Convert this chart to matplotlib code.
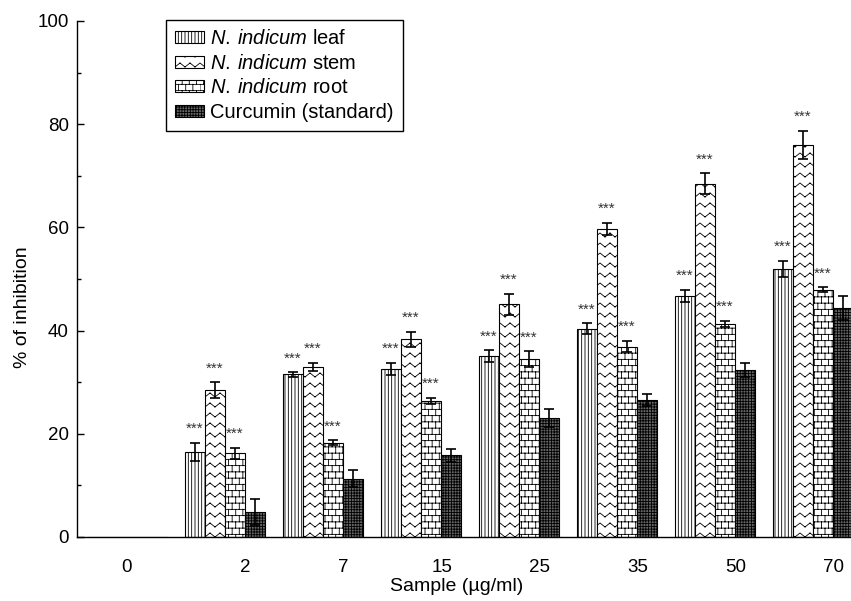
import numpy as np
import matplotlib
matplotlib.use('Agg')
import matplotlib.pyplot as plt
import matplotlib.hatch as mhatch
from matplotlib.path import Path

# data
doses = ['0', '2', '7', '15', '25', '35', '50', '70']
leaf = [0, 16.5, 31.5, 32.5, 35.1, 40.4, 46.7, 51.9]
leaf_err = [0, 1.8, 0.4, 1.2, 1.1, 1.0, 1.2, 1.6]
stem = [0, 28.5, 33.0, 38.3, 45.1, 59.7, 68.5, 76.0]
stem_err = [0, 1.5, 0.8, 1.5, 2.0, 1.2, 2.0, 2.7]
root = [0, 16.2, 18.3, 26.4, 34.5, 36.9, 41.3, 47.9]
root_err = [0, 1.1, 0.4, 0.6, 1.5, 1.1, 0.6, 0.5]
curcumin = [0, 4.9, 11.3, 15.8, 23.1, 26.6, 32.4, 44.4]
curcumin_err = [0, 2.5, 1.7, 1.2, 1.8, 1.2, 1.4, 2.3]


# extra hatch patterns: zigzag ('z') and brick ('b')
# drawn as separate two-point segments, since Agg also fills hatch paths
class ZigZagHatch(mhatch.HatchPatternBase):
    def __init__(self, hatch, density):
        n = hatch.count('z')
        self.rows = 10 * n
        self.teeth = 10 * n
        self.num_vertices = self.rows * self.teeth * 4 if n else 0

    def set_vertices_and_codes(self, vertices, codes):
        amp = 0.02
        k = 0
        step = 1.0 / (2 * self.teeth)
        for r in range(self.rows):
            y0 = (r + 0.5) / self.rows
            for t in range(2 * self.teeth):
                xa = t * step
                ya = y0 + (amp if t % 2 == 0 else -amp)
                yb = y0 + (-amp if t % 2 == 0 else amp)
                vertices[k] = (xa, ya)
                vertices[k + 1] = (xa + step, yb)
                codes[k] = Path.MOVETO
                codes[k + 1] = Path.LINETO
                k += 2


class BrickHatch(mhatch.HatchPatternBase):
    def __init__(self, hatch, density):
        n = hatch.count('b')
        self.rows = 16 * n
        self.cols = 14 * n
        self.num_vertices = (self.rows * 2 + (self.rows + 1) * self.cols * 2) if n else 0

    def set_vertices_and_codes(self, vertices, codes):
        k = 0
        for r in range(self.rows):
            y = (r + 0.5) / self.rows
            vertices[k] = (0, y)
            vertices[k + 1] = (1, y)
            codes[k] = Path.MOVETO
            codes[k + 1] = Path.LINETO
            k += 2
        for r in range(self.rows + 1):
            y0 = (r - 0.5) / self.rows
            y1 = (r + 0.5) / self.rows
            for j in range(self.cols):
                x = (j + 0.5 * (r % 2)) / self.cols
                vertices[k] = (x, y0)
                vertices[k + 1] = (x, y1)
                codes[k] = Path.MOVETO
                codes[k + 1] = Path.LINETO
                k += 2


mhatch._hatch_types.append(ZigZagHatch)
mhatch._hatch_types.append(BrickHatch)
mhatch._validate_hatch_pattern = lambda h: None

plt.rcParams['font.family'] = 'Liberation Sans'
plt.rcParams['mathtext.fontset'] = 'custom'
plt.rcParams['mathtext.rm'] = 'Liberation Sans'
plt.rcParams['mathtext.it'] = 'Liberation Sans:italic'
plt.rcParams['hatch.linewidth'] = 0.6

fig = plt.figure(figsize=(8.51, 6.01), dpi=100)
ax = fig.add_axes([0.0905, 0.1065, 0.9095, 0.8586])

x = np.arange(len(doses))
w = 0.204
series = [
    (leaf, leaf_err, -1.5, 'white', '|||||', r'$\it{N.\:indicum}$ leaf'),
    (stem, stem_err, -0.5, 'white', 'z', r'$\it{N.\:indicum}$ stem'),
    (root, root_err, 0.5, 'white', 'b', r'$\it{N.\:indicum}$ root'),
    (curcumin, curcumin_err, 1.5, '#666666', '++++++', 'Curcumin (standard)'),
]

handles = []
for i, (vals, errs, off, fc, hatch, label) in enumerate(series):
    vals = np.array(vals)
    errs = np.array(errs)
    xs = x + off * w
    bars = ax.bar(xs, vals, w, color=fc, edgecolor='black', linewidth=0.8,
                  hatch=hatch, label=label, zorder=2)
    handles.append(bars)
    m = vals > 0
    ax.errorbar(xs[m], vals[m], yerr=errs[m], fmt='none', ecolor='black',
                elinewidth=1.2, capsize=3.5, capthick=1.2, zorder=3)
    if i < 3:
        for xx, v, e in zip(xs[m], vals[m], errs[m]):
            ax.annotate('***', (xx, v + e), xytext=(0, 10), textcoords='offset points',
                        ha='center', va='center', fontsize=11, color='#333333')

ax.set_xlim(-0.51, 7.388)
ax.set_ylim(0, 100)
ax.set_yticks(np.arange(0, 101, 20))
ax.set_yticks(np.arange(10, 100, 20), minor=True)
label_pos = x + np.where(x > 0, 0.21, 0.0)
ax.set_xticks(label_pos)
ax.set_xticklabels(doses)
ax.tick_params(axis='x', length=0, pad=16, labelsize=13.5)
ax.tick_params(axis='y', which='major', direction='in', length=5, width=1, pad=6, labelsize=13.5)
ax.tick_params(axis='y', which='minor', direction='in', length=3, width=1)
for s in ['top', 'right']:
    ax.spines[s].set_visible(False)
for s in ['left', 'bottom']:
    ax.spines[s].set_linewidth(1.0)

ax.set_xlabel('Sample (µg/ml)', fontsize=14)
ax.set_ylabel('% of inhibition', fontsize=14)
ax.xaxis.set_label_coords(0.491, -0.079)
ax.yaxis.set_label_coords(-0.07, 0.446)
ax.yaxis.label.set_va('center')

leg = ax.legend(handles=handles, loc='upper left', bbox_to_anchor=(166 / 851, 1 - 20 / 601),
                bbox_transform=fig.transFigure, borderaxespad=0, fontsize=14.5,
                handlelength=1.45, handleheight=0.55, handletextpad=0.3, labelspacing=0.28,
                borderpad=0.45, fancybox=False, framealpha=1, edgecolor='black')
leg.get_frame().set_linewidth(1.0)

fig.savefig('out.png', dpi=100)
